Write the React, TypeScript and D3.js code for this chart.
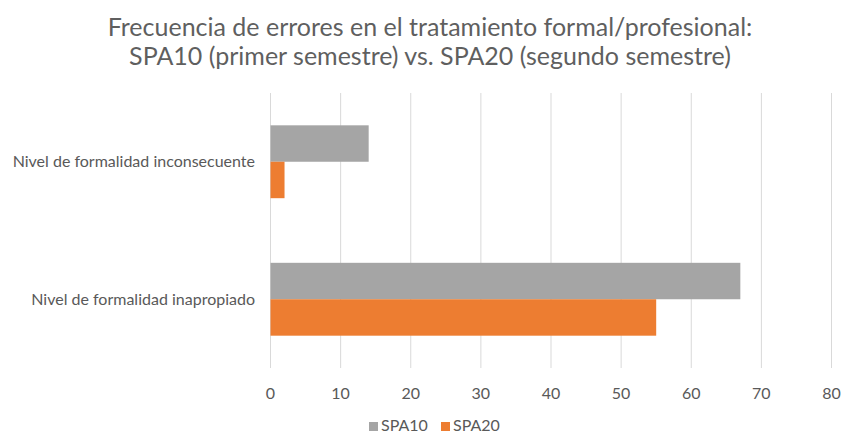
import React from "react";
import * as d3 from "d3";

const categories = ["Nivel de formalidad inconsecuente", "Nivel de formalidad inapropiado"];
const seriesNames = ["SPA10", "SPA20"];
const spa10 = [14, 67];
const spa20 = [2, 55];
const xTicks = [0, 10, 20, 30, 40, 50, 60, 70, 80];
const titleLines = [
  "Frecuencia de errores en el tratamiento formal/profesional:",
  "SPA10 (primer semestre) vs. SPA20 (segundo semestre)",
];

const colors = ["#A5A5A5", "#ED7D31"];
const W = 842;
const H = 435;
const FONT = "Lato, 'Open Sans', sans-serif";
const TEXT = "#595959";

export default function App() {
  const left = 270.5;
  const right = 831.5;
  const top = 93;
  const bottom = 368;
  const x = d3.scaleLinear().domain([0, 80]).range([left, right]);
  const y = d3.scaleBand<string>().domain(categories).range([top, bottom]).paddingInner(0.47).paddingOuter(0.235);
  const ySub = d3.scaleBand<string>().domain(seriesNames).range([0, y.bandwidth()]);
  const values = [spa10, spa20];

  return (
    <svg width={W} height={H} style={{ position: "absolute", left: 0, top: 0, background: "#fff" }} fontFamily={FONT}>
      <rect width={W} height={H} fill="#fff" />
      {titleLines.map((t, i) => (
        <text key={i} x={430} y={36 + i * 29} textAnchor="middle" fontSize={25} fill="#5f5f5f">
          {t}
        </text>
      ))}
      {xTicks.map((t) => (
        <g key={t}>
          <line x1={x(t)} x2={x(t)} y1={top} y2={bottom} stroke="#d9d9d9" strokeWidth={1} />
          <text x={x(t)} y={398.5} textAnchor="middle" fontSize={16} fill={TEXT}>
            {t}
          </text>
        </g>
      ))}
      {categories.map((c, ci) => (
        <g key={c}>
          {seriesNames.map((s, si) => (
            <rect
              key={s}
              x={x(0)}
              y={(y(c) as number) + (ySub(s) as number)}
              width={x(values[si][ci]) - x(0)}
              height={ySub.bandwidth()}
              fill={colors[si]}
            />
          ))}
          <text
            x={255}
            y={(y(c) as number) + y.bandwidth() / 2 + 5.5}
            textAnchor="end"
            fontSize={16}
            fill={TEXT}
          >
            {c}
          </text>
        </g>
      ))}
      <g>
        {seriesNames.map((s, i) => {
          const lx = i === 0 ? 369 : 441;
          return (
            <g key={s}>
              <rect x={lx} y={422} width={9} height={9} fill={colors[i]} />
              <text x={lx + 12} y={431} fontSize={16} fill={TEXT}>
                {s}
              </text>
            </g>
          );
        })}
      </g>
    </svg>
  );
}
